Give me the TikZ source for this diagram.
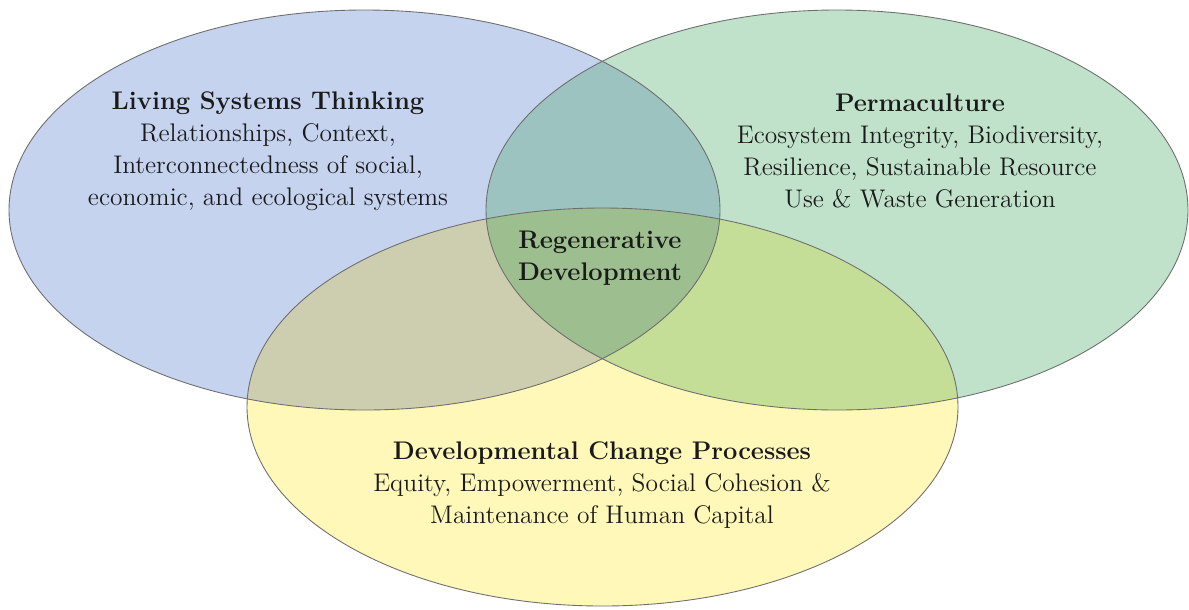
\documentclass[tikz,border=0pt]{standalone}
\usepackage{fontspec}
\definecolor{cblue}{HTML}{C5D3EE}
\definecolor{cgreen}{HTML}{C0E2CB}
\definecolor{cyellow}{HTML}{FFF8B8}
\definecolor{cbg}{HTML}{9CC3C0}
\definecolor{cby}{HTML}{CDCEB0}
\definecolor{cgy}{HTML}{C4DD97}
\definecolor{call}{HTML}{9DBE8F}
\definecolor{cedge}{HTML}{6E6E6E}
\definecolor{ctext}{HTML}{1A1A1A}
\begin{document}
\begin{tikzpicture}[x=0.02cm,y=-0.02cm,
  edge/.style={draw=cedge,line width=0.5pt},
  label/.style={align=center,text=ctext,font=\fontsize{14.5}{18.2}\selectfont,inner sep=0pt}]
\useasboundingbox (0,0) rectangle (1189,609);
\def\pathB{(364.5,210) ellipse [x radius=355.5,y radius=200]}
\def\pathG{(837,210) ellipse [x radius=351,y radius=200]}
\def\pathY{(602.5,407) ellipse [x radius=355.5,y radius=199]}
\fill[cblue] \pathB;
\fill[cgreen] \pathG;
\fill[cyellow] \pathY;
\begin{scope}\clip \pathB; \fill[cbg] \pathG; \end{scope}
\begin{scope}\clip \pathB; \fill[cby] \pathY; \end{scope}
\begin{scope}\clip \pathG; \fill[cgy] \pathY; \end{scope}
\begin{scope}\clip \pathB; \clip \pathG; \fill[call] \pathY; \end{scope}
\draw[edge] \pathB;
\draw[edge] \pathG;
\draw[edge] \pathY;
\node[label] (lst) at (268,151) {\textbf{Living Systems Thinking}\\Relationships, Context,\\Interconnectedness of social,\\economic, and ecological systems};
\node[label] (perm) at (920,151) {\textbf{Permaculture}\\Ecosystem Integrity, Biodiversity,\\Resilience, Sustainable Resource\\Use \& Waste Generation};
\node[label] (regen) at (600,258) {\textbf{Regenerative}\\\textbf{Development}};
\node[label] (dev) at (602,485) {\textbf{Developmental Change Processes}\\Equity, Empowerment, Social Cohesion \&\\Maintenance of Human Capital};
\end{tikzpicture}
\end{document}
